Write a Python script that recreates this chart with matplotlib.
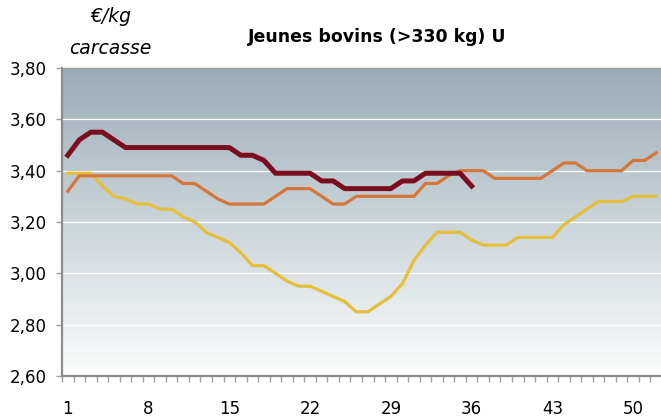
import numpy as np
import matplotlib
matplotlib.use('Agg')
import matplotlib.pyplot as plt
from matplotlib.colors import LinearSegmentedColormap

weeks = list(range(1, 53))

# three campaigns, weekly price in euros per kg carcass
prix_annee_n = [3.46, 3.52, 3.55, 3.55, 3.52, 3.49, 3.49, 3.49, 3.49, 3.49,
                3.49, 3.49, 3.49, 3.49, 3.49, 3.46, 3.46, 3.44, 3.39, 3.39,
                3.39, 3.39, 3.36, 3.36, 3.33, 3.33, 3.33, 3.33, 3.33, 3.36,
                3.36, 3.39, 3.39, 3.39, 3.39, 3.34]
prix_annee_n1 = [3.32, 3.38, 3.38, 3.38, 3.38, 3.38, 3.38, 3.38, 3.38, 3.38,
                 3.35, 3.35, 3.32, 3.29, 3.27, 3.27, 3.27, 3.27, 3.30, 3.33,
                 3.33, 3.33, 3.30, 3.27, 3.27, 3.30, 3.30, 3.30, 3.30, 3.30,
                 3.30, 3.35, 3.35, 3.38, 3.40, 3.40, 3.40, 3.37, 3.37, 3.37,
                 3.37, 3.37, 3.40, 3.43, 3.43, 3.40, 3.40, 3.40, 3.40, 3.44,
                 3.44, 3.47]
prix_annee_n2 = [3.39, 3.39, 3.39, 3.34, 3.30, 3.29, 3.27, 3.27, 3.25, 3.25,
                 3.22, 3.20, 3.16, 3.14, 3.12, 3.08, 3.03, 3.03, 3.00, 2.97,
                 2.95, 2.95, 2.93, 2.91, 2.89, 2.85, 2.85, 2.88, 2.91, 2.96,
                 3.05, 3.11, 3.16, 3.16, 3.16, 3.13, 3.11, 3.11, 3.11, 3.14,
                 3.14, 3.14, 3.14, 3.19, 3.22, 3.25, 3.28, 3.28, 3.28, 3.30,
                 3.30, 3.30]

y_ticks = [2.60, 2.80, 3.00, 3.20, 3.40, 3.60, 3.80]
x_labels = [1, 8, 15, 22, 29, 36, 43, 50]

plt.rcParams['font.family'] = ['DejaVu Sans']

fig = plt.figure(figsize=(6.61, 4.19), dpi=100)
axis = fig.add_axes([62 / 661, 43 / 419, 600 / 661, 308 / 419])

# grey-blue to white background gradient
fond = LinearSegmentedColormap.from_list('fond', ['#fcfdfd', '#9aacb6'])
gradient = np.linspace(0, 1, 256).reshape(-1, 1)
axis.imshow(gradient, aspect='auto', cmap=fond, origin='lower',
            extent=[0.5, 52.5, 2.60, 3.80], zorder=0)

for y in y_ticks[1:-1]:
    axis.axhline(y, color='white', linewidth=0.9, zorder=1)

axis.plot(weeks, prix_annee_n2, color='#e4bf3b', linewidth=2.3, zorder=3)
axis.plot(weeks, prix_annee_n1, color='#d5763a', linewidth=2.3, zorder=4)
axis.plot(weeks[:len(prix_annee_n)], prix_annee_n, color='#7a0e20',
          linewidth=3.6, zorder=5)

axis.set_xlim(0.5, 52.5)
axis.set_ylim(2.60, 3.80)
axis.set_yticks(y_ticks)
axis.set_yticklabels([f"{v:.2f}".replace('.', ',') for v in y_ticks])
axis.set_xticks(x_labels)
axis.set_xticklabels([str(w) for w in x_labels])
axis.set_xticks(np.arange(0.5, 53, 1), minor=True)
axis.tick_params(axis='x', which='major', length=0, pad=17, labelsize=12)
axis.tick_params(axis='x', which='minor', length=4, width=1, color='#a0a0a0')
axis.tick_params(axis='y', length=4, width=1, color='#a0a0a0', pad=7, labelsize=12)

for side in ['left', 'bottom']:
    axis.spines[side].set_color('#8c8c8c')
    axis.spines[side].set_linewidth(1.6)
axis.spines['top'].set_color('#9a9a9a')
axis.spines['top'].set_linewidth(1.0)
axis.spines['right'].set_visible(False)

fig.text(377 / 661, 1 - 37 / 419, "Jeunes bovins (>330 kg) U", ha='center',
         va='center', fontsize=12.5, fontweight='bold')
fig.text(111 / 661, 1 - 17 / 419, "€/kg", ha='center', va='center',
         fontsize=13.5, style='italic')
fig.text(110 / 661, 1 - 49 / 419, "carcasse", ha='center', va='center',
         fontsize=13.5, style='italic')

fig.savefig('out.png', dpi=100)
